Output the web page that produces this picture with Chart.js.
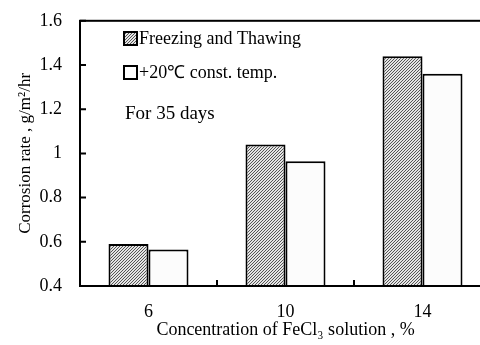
<!DOCTYPE html>
<html>
<head>
<meta charset="utf-8">
<script src="https://cdn.jsdelivr.net/npm/chart.js@4"></script>
<style>
  body { margin: 0; overflow: hidden; background: #fff; }
  canvas { display: block; }
</style>
</head>
<body>
<canvas id="myChart" width="492" height="345"></canvas>
<script>
const categories = ['6', '10', '14'];
const freezeThaw = [0.59, 1.04, 1.44];
const constTemp = [0.565, 0.965, 1.36];
const yTicks = [0.4, 0.6, 0.8, 1, 1.2, 1.4, 1.6];
const seriesNames = ['Freezing and Thawing', '+20\u2103 const. temp.'];

const serif = 'Liberation Serif';

// fine diagonal hatch for the freeze/thaw bars
const pc = document.createElement('canvas');
pc.width = 3; pc.height = 3;
const px = pc.getContext('2d');
px.fillStyle = '#e4e4e4';
px.fillRect(0, 0, 3, 3);
px.fillStyle = '#555';
for (let i = 0; i < 3; i++) px.fillRect(i, 2 - i, 1, 1);
const hatch = px.createPattern(pc, 'repeat');

const extras = {
  id: 'extras',
  afterDraw(chart) {
    const ctx = chart.ctx;
    const a = chart.chartArea;
    const x = chart.scales.x, y = chart.scales.y;
    ctx.save();
    ctx.strokeStyle = '#000';
    ctx.lineWidth = 2;
    ctx.strokeRect(a.left, a.top, a.right - a.left, a.bottom - a.top);
    ctx.beginPath();
    yTicks.forEach(v => {
      const py = y.getPixelForValue(v);
      ctx.moveTo(a.left, py); ctx.lineTo(a.left + 6, py);
    });
    for (let i = 0; i < categories.length - 1; i++) {
      const bx = (x.getPixelForValue(i) + x.getPixelForValue(i + 1)) / 2;
      ctx.moveTo(bx, a.bottom); ctx.lineTo(bx, a.bottom - 6);
    }
    ctx.stroke();

    // legend
    const fills = [hatch, '#fff'];
    ctx.font = '18px "' + serif + '"';
    ctx.textBaseline = 'alphabetic';
    [44, 78].forEach((by, i) => {
      ctx.fillStyle = fills[i];
      ctx.fillRect(124, by - 12, 13, 13);
      ctx.strokeRect(124, by - 12, 13, 13);
      ctx.fillStyle = '#000';
      ctx.fillText(seriesNames[i], 139, by);
    });
    ctx.font = '19px "' + serif + '"';
    ctx.fillText('For 35 days', 125, 119);
    ctx.restore();
  }
};

new Chart(document.getElementById('myChart'), {
  type: 'bar',
  data: {
    labels: categories,
    datasets: [{
      label: seriesNames[0],
      data: freezeThaw,
      backgroundColor: hatch,
      borderColor: '#000',
      borderWidth: 2,
      borderSkipped: false
    }, {
      label: seriesNames[1],
      data: constTemp,
      backgroundColor: '#fcfcfc',
      borderColor: '#000',
      borderWidth: 2,
      borderSkipped: false
    }]
  },
  options: {
    responsive: false,
    animation: false,
    categoryPercentage: 0.584,
    barPercentage: 1,
    layout: { padding: { top: 20, right: 1, left: 0, bottom: 0 } },
    plugins: { legend: { display: false }, tooltip: { enabled: false } },
    scales: {
      x: {
        grid: { display: false },
        border: { display: false },
        ticks: { color: '#000', padding: 7, font: { family: serif, size: 18 } },
        title: {
          display: true,
          text: 'Concentration of FeCl\u2083 solution , %',
          color: '#000',
          padding: { top: 0, bottom: 4 },
          font: { family: serif, size: 18 }
        },
        afterFit: s => { s.height = 59; }
      },
      y: {
        min: 0.4,
        max: 1.6,
        afterBuildTicks: s => { s.ticks = yTicks.map(v => ({ value: v })); },
        grid: { display: false },
        border: { display: false },
        ticks: {
          color: '#000',
          padding: 10,
          font: { family: serif, size: 18 },
          callback: v => String(v)
        },
        title: {
          display: true,
          text: 'Corrosion rate , g/m\u00b2/hr',
          color: '#000',
          padding: { top: 15, bottom: 0 },
          font: { family: serif, size: 17 }
        },
        afterFit: s => { s.width = 80; }
      }
    }
  },
  plugins: [extras]
});
</script>
</body>
</html>
